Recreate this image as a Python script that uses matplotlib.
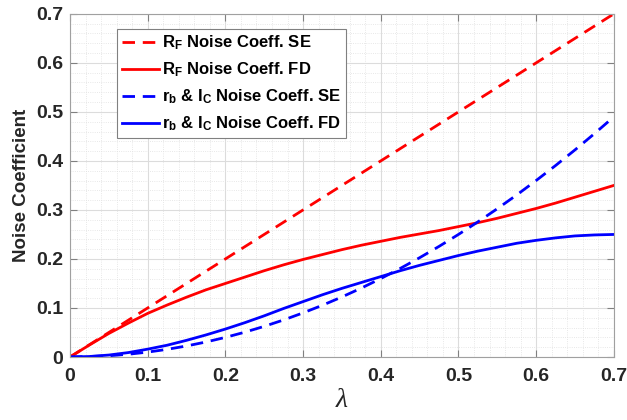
import numpy as np
import matplotlib
matplotlib.use('Agg')
import matplotlib.pyplot as plt
from matplotlib.ticker import MultipleLocator

plt.rcParams['font.family'] = ['Liberation Sans', 'DejaVu Sans']
plt.rcParams['font.weight'] = 'bold'
plt.rcParams['mathtext.fontset'] = 'custom'
plt.rcParams['mathtext.bf'] = 'Liberation Sans:bold'
plt.rcParams['mathtext.rm'] = 'Liberation Sans:bold'
plt.rcParams['mathtext.default'] = 'bf'

# lambda values
lam = [0.0, 0.025, 0.05, 0.075, 0.1, 0.125, 0.15, 0.175, 0.2, 0.225, 0.25, 0.275, 0.3, 0.325,
       0.35, 0.375, 0.4, 0.425, 0.45, 0.475, 0.5, 0.525, 0.55, 0.575, 0.6, 0.625, 0.65, 0.675, 0.7]

# noise coefficients
rf_se = [0.0, 0.025, 0.05, 0.075, 0.1, 0.125, 0.15, 0.175, 0.2, 0.225, 0.25, 0.275, 0.3, 0.325,
         0.35, 0.375, 0.4, 0.425, 0.45, 0.475, 0.5, 0.525, 0.55, 0.575, 0.6, 0.625, 0.65, 0.675, 0.7]
rf_fd = [0.0, 0.0245, 0.048, 0.069, 0.089, 0.106, 0.122, 0.137, 0.150, 0.163, 0.176, 0.188, 0.199, 0.209,
         0.219, 0.228, 0.236, 0.244, 0.251, 0.258, 0.266, 0.274, 0.283, 0.293, 0.303, 0.314, 0.326, 0.338, 0.350]
rb_se = [0.0, 0.001, 0.0025, 0.0056, 0.01, 0.0156, 0.0225, 0.0306, 0.04, 0.0506, 0.0625, 0.0756, 0.09, 0.1056,
         0.1225, 0.1406, 0.16, 0.1806, 0.2025, 0.2256, 0.25, 0.2756, 0.3025, 0.3306, 0.36, 0.3906, 0.4225, 0.4556, 0.49]
rb_fd = [0.0, 0.001, 0.004, 0.009, 0.016, 0.024, 0.034, 0.045, 0.057, 0.070, 0.084, 0.099, 0.113, 0.127,
         0.140, 0.152, 0.164, 0.176, 0.187, 0.197, 0.207, 0.216, 0.224, 0.232, 0.238, 0.243, 0.247, 0.249, 0.250]

labels = [r'R$_F$ Noise Coeff. SE',
          r'R$_F$ Noise Coeff. FD',
          r'r$_b$ & I$_C$ Noise Coeff. SE',
          r'r$_b$ & I$_C$ Noise Coeff. FD']

fig = plt.figure(figsize=(6.27, 4.2), dpi=100)
ax = fig.add_axes([0.1116, 0.15, 0.8674, 0.817])

dash = (4.5, 2.8)
ax.plot(lam, rf_se, color='#ff0000', lw=2, dashes=dash, label=labels[0])
ax.plot(lam, rf_fd, color='#ff0000', lw=2, label=labels[1])
ax.plot(lam, rb_se, color='#0000ff', lw=2, dashes=dash, label=labels[2])
ax.plot(lam, rb_fd, color='#0000ff', lw=2, label=labels[3])

ax.set_xlim(0, 0.7)
ax.set_ylim(0, 0.7)
ax.xaxis.set_major_locator(MultipleLocator(0.1))
ax.yaxis.set_major_locator(MultipleLocator(0.1))
ax.xaxis.set_minor_locator(MultipleLocator(0.02))
ax.yaxis.set_minor_locator(MultipleLocator(0.02))
ax.xaxis.set_major_formatter(lambda v, p: '0' if abs(v) < 1e-9 else f'{v:.1f}')
ax.yaxis.set_major_formatter(lambda v, p: '0' if abs(v) < 1e-9 else f'{v:.1f}')

ax.grid(True, which='major', color='#dcdcdc', lw=0.8)
ax.grid(True, which='minor', color='#e0e0e0', lw=0.6, ls=':')
ax.set_axisbelow(True)
ax.tick_params(which='both', direction='in', top=True, right=True, colors='#808080',
               labelcolor='#262626', labelsize=14)
ax.tick_params(which='minor', length=0)
ax.tick_params(which='major', length=5)
ax.tick_params(axis='x', pad=8)
ax.tick_params(axis='y', pad=5)
for s in ax.spines.values():
    s.set_color('#a0a0a0')

ax.set_ylabel('Noise Coefficient', fontsize=13.5, fontweight='bold', color='#262626', labelpad=4)
ax.set_xlabel('λ', fontsize=20, color='#262626', labelpad=2,
              fontfamily='Liberation Serif', fontstyle='italic', fontweight='normal')

leg = ax.legend(loc='upper left', bbox_to_anchor=(0.087, 0.957), fontsize=12,
                handlelength=2.2, handletextpad=0.2, borderpad=0.3,
                labelspacing=0.5, fancybox=False, framealpha=1,
                edgecolor='#808080', borderaxespad=0)
leg.get_frame().set_linewidth(0.8)

fig.savefig('out.png', dpi=100)
